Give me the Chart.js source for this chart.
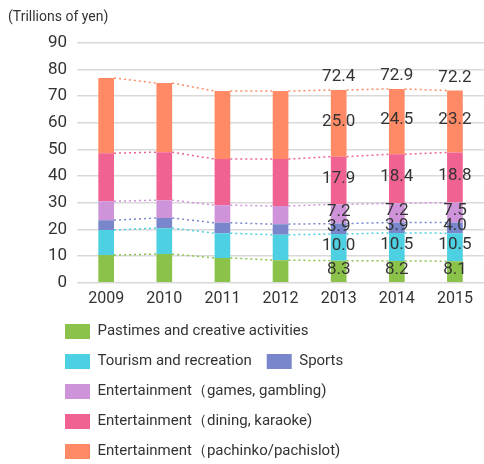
<!DOCTYPE html>
<html>
<head>
<meta charset="utf-8">
<script src="https://cdn.jsdelivr.net/npm/chart.js@4/dist/chart.umd.min.js"></script>
<style>
  html, body { margin: 0; padding: 0; background: #fff; }
  #wrap { width: 484px; height: 464px; }
</style>
</head>
<body>
<div id="wrap"><canvas id="leisure"></canvas></div>
<script>
var years = ['2009', '2010', '2011', '2012', '2013', '2014', '2015'];
var pastimes  = [10.4, 10.8, 9.3, 8.5, 8.3, 8.2, 8.1];
var tourism   = [9.4, 9.7, 9.3, 9.5, 10.0, 10.5, 10.5];
var sports    = [3.7, 3.8, 3.9, 4.0, 3.9, 3.9, 4.0];
var games     = [7.1, 6.7, 6.6, 6.8, 7.2, 7.2, 7.5];
var dining    = [18.0, 18.0, 17.3, 17.6, 17.9, 18.4, 18.8];
var pachinko  = [28.2, 25.9, 25.5, 25.5, 25.0, 24.5, 23.2];
var totals    = [null, null, null, null, 72.4, 72.9, 72.2];
var labelled  = ['2013', '2014', '2015'];
var yTicks    = [0, 10, 20, 30, 40, 50, 60, 70, 80, 90];

var font = 'Roboto';
var textColor = '#333';

// dotted lines joining the tops of each series + value labels
var extras = {
    id: 'extras',
    afterLayout: function(chart) {
        chart.titleBlock.left = 8;
        chart.legend.left = 50;
        chart.legend.top -= 7;
    },
    afterDatasetsDraw: function(chart) {
        var ctx = chart.ctx;
        ctx.save();
        chart.data.datasets.forEach(function(ds, d) {
            var bars = chart.getDatasetMeta(d).data;
            ctx.strokeStyle = ds.backgroundColor;
            ctx.lineWidth = 1.5;
            ctx.setLineDash([2, 3]);
            for (var i = 0; i < bars.length - 1; i++) {
                var a = bars[i], b = bars[i + 1];
                ctx.beginPath();
                ctx.moveTo(a.x + a.width / 2, a.y);
                ctx.lineTo(b.x - b.width / 2, b.y);
                ctx.stroke();
            }
        });
        ctx.setLineDash([]);
        ctx.fillStyle = textColor;
        ctx.font = '17px ' + font;
        ctx.textAlign = 'center';
        ctx.textBaseline = 'middle';
        chart.data.datasets.forEach(function(ds, d) {
            var bars = chart.getDatasetMeta(d).data;
            bars.forEach(function(bar, i) {
                if (labelled.indexOf(years[i]) < 0) return;
                var y = (bar.y + bar.base) / 2 - 2;
                ctx.fillText(ds.data[i].toFixed(1), bar.x, y);
            });
        });
        var top = chart.getDatasetMeta(chart.data.datasets.length - 1).data;
        top.forEach(function(bar, i) {
            if (totals[i] == null) return;
            ctx.fillText(totals[i].toFixed(1), bar.x, bar.y - 13);
        });
        ctx.restore();
    }
};

function series(label, data, color) {
    return {
        label: label,
        data: data,
        backgroundColor: color,
        borderWidth: 0,
        barPercentage: 0.27,
        categoryPercentage: 1
    };
}

var ctx = document.getElementById('leisure').getContext('2d');
var myChart = new Chart(ctx, {
    type: 'bar',
    data: {
        labels: years,
        datasets: [
            series('Pastimes and creative activities', pastimes, '#8BC34A'),
            series('Tourism and recreation', tourism, '#4DD0E1'),
            series('Sports', sports, '#7986CB'),
            series('Entertainment\uFF08games, gambling)', games, '#CE93D8'),
            series('Entertainment\uFF08dining, karaoke)', dining, '#F06292'),
            series('Entertainment\uFF08pachinko/pachislot)', pachinko, '#FF8A65')
        ]
    },
    options: {
        responsive: true,
        maintainAspectRatio: false,
        animation: false,
        layout: { padding: { left: 38, right: 0, top: 0, bottom: -12 } },
        plugins: {
            tooltip: { enabled: false },
            title: {
                display: true,
                text: '(Trillions of yen)',
                align: 'start',
                color: textColor,
                font: { family: font, size: 14, weight: 'normal' },
                padding: { top: 9, bottom: 17 }
            },
            legend: {
                position: 'bottom',
                align: 'start',
                fullSize: false,
                labels: {
                    boxWidth: 25,
                    boxHeight: 15,
                    padding: 15,
                    color: textColor,
                    font: { family: font, size: 15 }
                }
            }
        },
        scales: {
            x: {
                stacked: true,
                grid: { display: false, drawTicks: false },
                border: { display: false },
                ticks: { color: textColor, font: { family: font, size: 16 }, padding: 7 }
            },
            y: {
                stacked: true,
                min: 0,
                max: 90,
                afterBuildTicks: function(axis) {
                    axis.ticks = yTicks.map(function(v) { return { value: v }; });
                },
                grid: { color: '#d9d9d9', lineWidth: 1.5, drawTicks: false },
                border: { display: false },
                ticks: { color: textColor, font: { family: font, size: 17 }, padding: 10 }
            }
        }
    },
    plugins: [extras]
});
</script>
</body>
</html>
